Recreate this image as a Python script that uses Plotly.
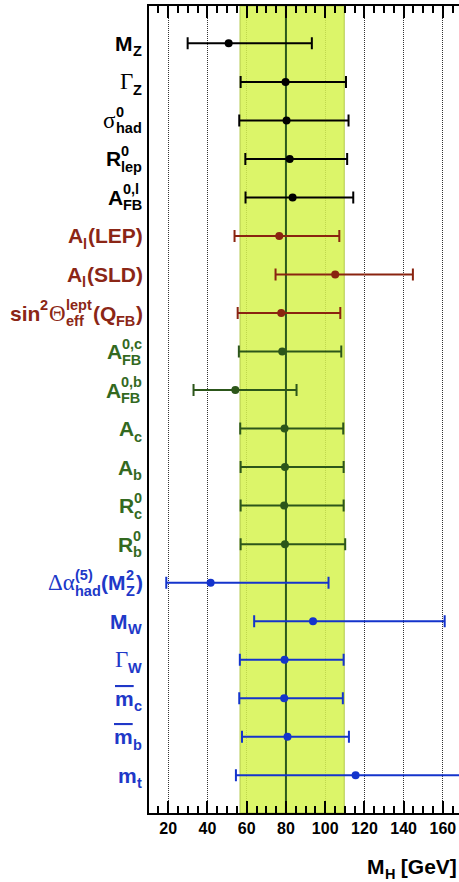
import re
import plotly.graph_objects as go

# Observables, written with a small TeX-like markup:
#   ^{...} superscript, _{...} subscript, \bar{...} overlined text
observables = [
    "M_{Z}", "Γ_{Z}", "σ^{0}_{had}", "R^{0}_{lep}", "A^{0,l}_{FB}",
    "A_{l}(LEP)", "A_{l}(SLD)", "sin^{2}Θ^{lept}_{eff}(Q_{FB})",
    "A^{0,c}_{FB}", "A^{0,b}_{FB}", "A_{c}", "A_{b}", "R^{0}_{c}", "R^{0}_{b}",
    "Δα^{(5)}_{had}(M^{2}_{Z})", "M_{W}", "Γ_{W}", "\\bar{m}_{c}", "\\bar{m}_{b}", "m_{t}",
]
row_group = (["lineshape"] * 5 + ["leptonic"] * 3 + ["heavy"] * 6 + ["other"] * 6)

# Preferred Higgs mass per observable and its 1-sigma interval [GeV]
mh_center = [50.8, 79.8, 80.3, 81.9, 83.4, 76.6, 105.1, 77.6, 78.1, 54.2,
             79.3, 79.5, 79.1, 79.5, 41.6, 93.8, 79.3, 79.1, 80.8, 115.5]
mh_low = [29.9, 56.9, 56.2, 59.3, 59.4, 53.8, 74.7, 55.4, 56.0, 32.9,
          56.7, 56.9, 56.9, 56.9, 19.0, 63.8, 56.5, 56.2, 57.6, 54.5]
mh_high = [93.2, 110.6, 111.9, 111.2, 114.3, 107.2, 144.7, 107.7, 108.2, 85.4,
           109.2, 109.4, 109.4, 110.2, 101.7, 160.9, 109.4, 109.0, 112.1, 230.0]

# Global fit result
fit_center = 80.0
fit_low = 56.6
fit_high = 109.7

x_ticks = [20, 40, 60, 80, 100, 120, 140, 160]
x_title = "M_{H} [GeV]"

X_RANGE = [10.2, 168.2]
Y_RANGE = [19.98, -0.97]   # rows run top to bottom

group_label_color = {"lineshape": "#000000", "leptonic": "#8B2616",
                     "heavy": "#33691F", "other": "#2038C8"}
group_mark_color = {"lineshape": "#000000", "leptonic": "#8A2410",
                    "heavy": "#2C561A", "other": "#1434CC"}

SANS = "Liberation Sans"
SERIF = "Liberation Serif"
GREEK = "\u0370-\u03ff"

# Approximate advance widths (em) used to lay out the composed labels
SANS_BOLD_W = {
    "M": .833, "Z": .611, "R": .722, "A": .722, "F": .611, "B": .722, "L": .611,
    "E": .667, "P": .667, "S": .667, "D": .722, "Q": .778, "W": .944, "H": .722,
    "G": .778, "(": .333, ")": .333, "[": .333, "]": .333, ",": .278, " ": .278,
    "0": .556, "2": .556, "5": .556, "a": .556, "b": .611, "c": .556, "d": .611,
    "e": .556, "f": .333, "h": .611, "i": .278, "l": .278, "m": .889, "n": .611,
    "p": .611, "s": .556, "t": .333, "v": .556,
}
SERIF_W = {"Γ": .60, "σ": .56, "Θ": .72, "Δ": .64, "α": .58}

TOKEN = re.compile(r"\^\{([^}]*)\}|_\{([^}]*)\}|\\bar\{([^}]*)\}|([^\^_\\]+)")


def parse(markup):
    segs = []
    for m in TOKEN.finditer(markup):
        sup, sub, bar, text = m.groups()
        if sup is not None or sub is not None:
            if segs and segs[-1][0] == "scripts":
                if sup is not None:
                    segs[-1][1] = sup
                if sub is not None:
                    segs[-1][2] = sub
            else:
                segs.append(["scripts", sup, sub])
        elif bar is not None:
            segs.append(["bar", bar])
        else:
            for run in re.findall(rf"[{GREEK}]+|[^{GREEK}]+", text):
                kind = "greek" if re.match(rf"[{GREEK}]", run) else "text"
                segs.append([kind, run])
    return segs


def width(s, size, table):
    return sum(table.get(c, 0.6) for c in (s or "")) * size


def add_label(fig, markup, color, x, xref, y, yref, xshift0, yshift0,
              base=21, small=14.5):
    cursor = xshift0
    common = dict(x=x, xref=xref, y=y, yref=yref, showarrow=False,
                  borderpad=0, borderwidth=0, yanchor="middle")
    for seg in reversed(parse(markup)):
        kind = seg[0]
        if kind == "scripts":
            _, sup, sub = seg
            w = max(width(sup, small, SANS_BOLD_W), width(sub, small, SANS_BOLD_W)) + 1
            cursor -= w
            for t, dy in ((sup, 8), (sub, -8)):
                if t:
                    fig.add_annotation(
                        text=t, xanchor="left", xshift=cursor, yshift=yshift0 + dy,
                        font=dict(family=SANS, size=small, color=color, weight="bold"),
                        **common)
        elif kind == "greek":
            size = base + 2
            fig.add_annotation(
                text=seg[1], xanchor="right", xshift=cursor, yshift=yshift0,
                font=dict(family=SERIF, size=size, color=color), **common)
            cursor -= width(seg[1], size, SERIF_W)
        else:
            txt = seg[1]
            shown = txt
            if kind == "bar":
                shown = f"<span style='text-decoration:overline'>{txt}</span>"
            fig.add_annotation(
                text=shown, xanchor="right", xshift=cursor, yshift=yshift0,
                font=dict(family=SANS, size=base, color=color, weight="bold"),
                **common)
            cursor -= width(txt, base, SANS_BOLD_W)


fig = go.Figure()

# Fit band (semi-transparent so the grid shows through) and central value
fig.add_trace(go.Scatter(
    x=[fit_low, fit_high, fit_high, fit_low, fit_low],
    y=[Y_RANGE[0], Y_RANGE[0], Y_RANGE[1], Y_RANGE[1], Y_RANGE[0]],
    mode="lines", fill="toself", fillcolor="rgba(214,243,80,0.86)",
    line=dict(color="#B3C94A", width=1),
    hoverinfo="skip", showlegend=False,
))
fig.add_trace(go.Scatter(
    x=[fit_center, fit_center], y=[Y_RANGE[0], Y_RANGE[1]],
    mode="lines", line=dict(color="#2C5A1C", width=2),
    hoverinfo="skip", showlegend=False,
))

rows = list(range(len(observables)))
for g in ["lineshape", "leptonic", "heavy", "other"]:
    idx = [i for i in rows if row_group[i] == g]
    col = group_mark_color[g]
    fig.add_trace(go.Scatter(
        x=[mh_center[i] for i in idx],
        y=idx,
        mode="markers",
        marker=dict(size=8, color=col),
        error_x=dict(
            type="data", symmetric=False,
            array=[mh_high[i] - mh_center[i] for i in idx],
            arrayminus=[mh_center[i] - mh_low[i] for i in idx],
            color=col, thickness=2, width=6,
        ),
        hoverinfo="skip",
        showlegend=False,
    ))

for i, label in enumerate(observables):
    add_label(fig, label, group_label_color[row_group[i]],
              x=0, xref="paper", y=i, yref="y", xshift0=-6, yshift0=0)

add_label(fig, x_title, "#000000", x=1, xref="paper", y=0, yref="paper",
          xshift0=-2, yshift0=-53)

fig.update_xaxes(
    range=X_RANGE,
    tickvals=x_ticks,
    ticks="inside", ticklen=12, tickwidth=2, tickcolor="#000000",
    minor=dict(dtick=5, tick0=0, ticks="inside", ticklen=7, tickwidth=1.5,
               tickcolor="#000000", showgrid=False),
    showgrid=True, gridcolor="#333333", gridwidth=1, griddash="1px,1px",
    showline=True, linecolor="#000000", linewidth=2, mirror="ticks",
    zeroline=False,
    tickfont=dict(family=SANS, size=16, color="#000000", weight="bold"),
)
fig.update_yaxes(
    range=Y_RANGE,
    showticklabels=False, ticks="", showgrid=False, zeroline=False,
    showline=True, linecolor="#000000", linewidth=2, mirror=False,
)
fig.update_layout(
    width=459, height=882,
    margin=dict(l=149, r=0, t=6, b=69),
    plot_bgcolor="#ffffff", paper_bgcolor="#ffffff",
    showlegend=False,
)

fig.write_html("out.html")
